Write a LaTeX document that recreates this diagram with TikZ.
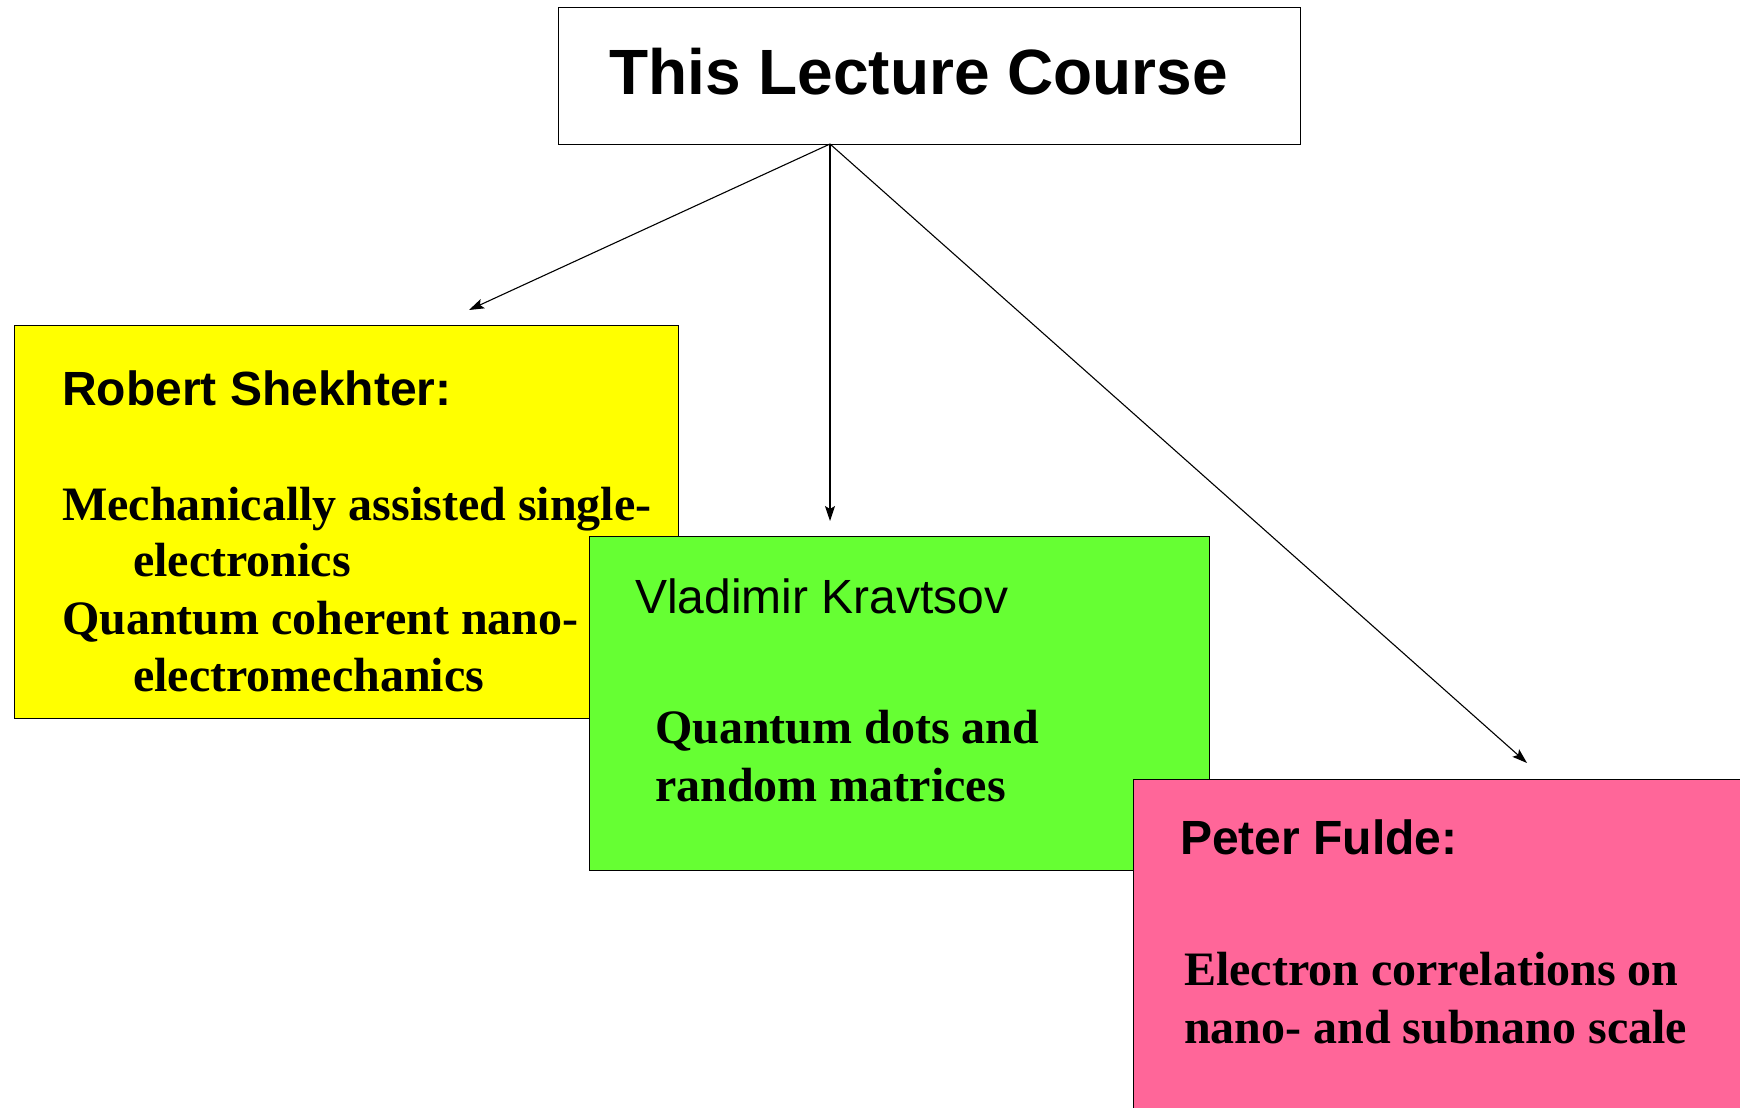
\documentclass[tikz,border=0pt]{standalone}
\usepackage{fontspec}
\setmainfont{Liberation Serif}
\setsansfont{Liberation Sans}
\usepackage{tikz}
\usetikzlibrary{arrows.meta, positioning}
\definecolor{shekhterYellow}{HTML}{FFFF00}
\definecolor{kravtsovGreen}{HTML}{66FF33}
\definecolor{fuldePink}{HTML}{FF6699}
\tikzstyle{lectureBox} = [rectangle, anchor=north west, inner sep=0pt, draw=black, line width=1.2pt]
\tikzstyle{arrow} = [line width=1.1pt, -{Stealth[length=15pt, width=10pt, inset=3pt]}]
\tikzstyle{courseTitle} = [anchor=base west, inner sep=0pt, font=\sffamily\bfseries\fontsize{64}{76}\selectfont]
\tikzstyle{lecturer} = [anchor=base west, inner sep=0pt, font=\sffamily\bfseries\fontsize{48}{57}\selectfont]
\tikzstyle{topicLine} = [anchor=base west, inner sep=0pt, font=\rmfamily\bfseries\fontsize{48}{57}\selectfont]

\begin{document}
\begin{tikzpicture}[x=1pt, y=-1pt]
    \useasboundingbox [fill=white] (0,0) rectangle (1740,1108);
    % boxes
    \node (course) [lectureBox, fill=white, minimum width=742pt, minimum height=137pt] at (558,7) {};
    \node (shekhter) [lectureBox, fill=shekhterYellow, minimum width=664pt, minimum height=393pt] at (14,325) {};
    \node (kravtsov) [lectureBox, fill=kravtsovGreen, minimum width=620pt, minimum height=334pt] at (589,536) {};
    \node (fulde) [lectureBox, fill=fuldePink, minimum width=660pt, minimum height=380pt] at (1133,779) {};
    % texts
    \node (courseText) [courseTitle] at (609,94.6) {This Lecture Course};
    \node (shekhterName) [lecturer] at (62,405) {Robert Shekhter:};
    \node (shekhterA) [topicLine] at (62,520) {Mechanically assisted single-};
    \node (shekhterB) [topicLine] at (133,576) {electronics};
    \node (shekhterC) [topicLine] at (62,634) {Quantum coherent nano-};
    \node (shekhterD) [topicLine] at (133,691) {electromechanics};
    \node (kravtsovName) [lecturer, font=\sffamily\mdseries\fontsize{48}{57}\selectfont] at (635,613) {Vladimir Kravtsov};
    \node (kravtsovA) [topicLine] at (655,743.5) {Quantum dots and};
    \node (kravtsovB) [topicLine] at (655,801) {random matrices};
    \node (fuldeName) [lecturer] at (1180,854) {Peter Fulde:};
    \node (fuldeA) [topicLine] at (1184,985) {Electron correlations on};
    \node (fuldeB) [topicLine] at (1184,1043.5) {nano- and subnano scale};
    % arrows
    \coordinate (src) at (830,144);
    \coordinate (toShekhter) at (469,310);
    \coordinate (toKravtsov) at (830,521);
    \coordinate (toFulde) at (1527,763);
    \draw [arrow] (src) -- (toShekhter);
    \draw [arrow] (src) -- (toKravtsov);
    \draw [arrow] (src) -- (toFulde);
\end{tikzpicture}
\end{document}
